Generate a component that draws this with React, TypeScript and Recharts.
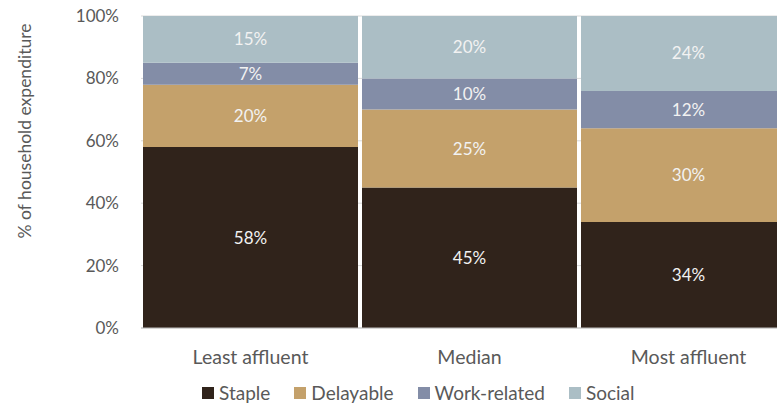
import React from "react";
import { BarChart, Bar, XAxis, YAxis, CartesianGrid, Legend, LabelList } from "recharts";

const categories = ["Least affluent", "Median", "Most affluent"];
const staple = [58, 45, 34];
const delayable = [20, 25, 30];
const workRelated = [7, 10, 12];
const social = [15, 20, 24];
const yTicks = [0, 20, 40, 60, 80, 100];

const seriesDefs = [
  { key: "Staple", color: "#30231b" },
  { key: "Delayable", color: "#c4a16b" },
  { key: "Work-related", color: "#838da7" },
  { key: "Social", color: "#abbec5" },
];

const data = categories.map((c, i) => ({
  name: c,
  Staple: staple[i],
  Delayable: delayable[i],
  "Work-related": workRelated[i],
  Social: social[i],
}));

const FONT = "Lato, 'Open Sans', sans-serif";

const LegendContent = () => (
  <div style={{ display: "flex", justifyContent: "flex-start", paddingLeft: 202, marginTop: 8, fontFamily: FONT, fontSize: 19, lineHeight: "22px", color: "#595959" }}>
    {seriesDefs.map((s) => (
      <div key={s.key} style={{ display: "flex", alignItems: "center", marginRight: 24 }}>
        <span style={{ display: "inline-block", width: 12, height: 12, background: s.color, marginRight: 5 }} />
        <span>{s.key}</span>
      </div>
    ))}
  </div>
);

export default function App() {
  return (
    <div style={{ position: "absolute", left: 0, top: 0, width: 777, height: 403, overflow: "hidden", background: "#fff" }}>
      <BarChart
        width={798}
        height={403}
        data={data}
        margin={{ top: 16, right: 0, bottom: 0, left: 0 }}
        barCategoryGap={2}
      >
        <CartesianGrid vertical={false} stroke="#d9d9d9" />
        <XAxis
          dataKey="name"
          tickLine={false}
          axisLine={{ stroke: "#bfbfbf" }}
          height={46}
          tickMargin={16}
          tick={{ fill: "#595959", fontSize: 19.5, fontFamily: FONT }}
        />
        <YAxis
          width={141}
          domain={[0, 100]}
          ticks={yTicks}
          tickFormatter={(v) => `${v}%`}
          tickLine={false}
          axisLine={false}
          tickSize={0}
          tickMargin={22}
          tick={{ fill: "#595959", fontSize: 17, fontFamily: FONT }}
          label={{
            value: "% of household expenditure",
            angle: -90,
            position: "insideLeft",
            dx: 20,
            dy: -41,
            style: { fill: "#595959", fontSize: 17.5, fontFamily: FONT, textAnchor: "middle" },
          }}
        />
        <Legend verticalAlign="bottom" height={29} content={<LegendContent />} />
        {seriesDefs.map((s) => (
          <Bar key={s.key} dataKey={s.key} stackId="a" fill={s.color} isAnimationActive={false}>
            <LabelList
              dataKey={s.key}
              position="center"
              formatter={(v: number) => `${v}%`}
              style={{ fill: "#f2f2f2", fontSize: 17, fontFamily: FONT }}
            />
          </Bar>
        ))}
      </BarChart>
    </div>
  );
}
